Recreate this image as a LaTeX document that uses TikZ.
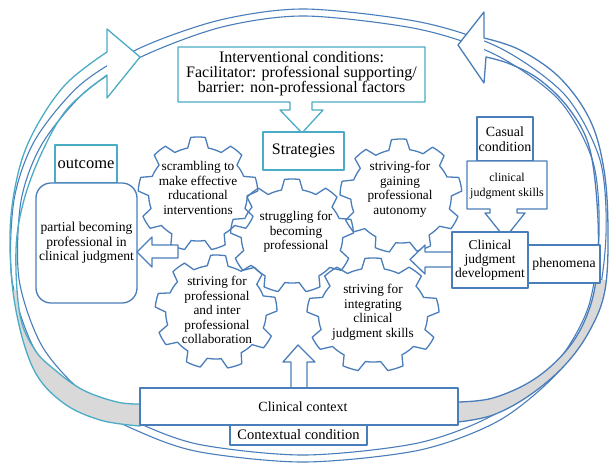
\documentclass[tikz,border=0pt]{standalone}
\usepackage{fontspec}
\setmainfont{Liberation Serif}
\definecolor{bl}{HTML}{4A7EBB}
\definecolor{tl}{HTML}{4BACC6}
\definecolor{gr}{HTML}{D9D9D9}
\newcommand{\gearshape}[4]{%
  \begin{scope}[shift={(#1,#2)}, xscale=#3]
    \draw[gearline] ({#4-12}:47)
      \foreach \k in {0,...,8}{
        -- ({#4+\k*40-7}:57) arc[start angle={#4+\k*40-7}, delta angle=14, radius=57]
        -- ({#4+\k*40+12}:47) arc[start angle={#4+\k*40+12}, delta angle=16, radius=47]
      } -- cycle;
  \end{scope}}
\begin{document}
\begin{tikzpicture}[x=1pt,y=-1pt, line join=round,
  ln/.style={line width=1.3pt},
  bbox/.style={draw=bl, ln, fill=white, inner sep=0pt, align=center},
  tbox/.style={draw=tl, ln, fill=white, inner sep=0pt, align=center},
  gearline/.style={draw=bl, ln},
  gtext/.style={align=center, font=\fontsize{13.3}{14.5}\selectfont, inner sep=0pt},
  blk/.style={draw=bl, ln, fill=white},
  ringline/.style={draw=bl, line width=1.1pt},
]
\fill[white] (0,0) rectangle (610,464);
\useasboundingbox (0,0) rectangle (610,464);

% ring
\draw[ringline] plot[smooth cycle] coordinates {(305,9) (420,22) (500,48) (565,95) (600,160) (606,235) (595,310) (560,370) (500,420) (420,450) (305,462) (200,452) (140,432) (80,400) (35,350) (12,280) (14,200) (35,140) (80,85) (140,48) (220,20)};
\draw[ringline] plot[smooth cycle] coordinates {(305,16) (418,29) (496,55) (559,100) (593,162) (599,235) (588,308) (554,366) (495,414) (418,443) (305,455) (202,445) (143,425) (85,394) (42,346) (19,279) (21,201) (42,144) (86,91) (143,56) (222,27)};

% left curved arrow (teal)
\path[save path=\leftarr] plot[smooth,tension=0.6] coordinates {(140,426) (100,420) (62,402) (33,368) (15,305) (10,235) (17,178) (33,133) (65,85) (107,52)}
  -- (107,29) -- (140,57) -- (107,98) -- (107,75)
  -- plot[smooth,tension=0.6] coordinates {(107,75) (68,108) (43,150) (24,200) (16,250) (20,315) (35,350) (55,370) (83,390) (117,402) (140,404)} -- cycle;
% right curved arrow (blue)
\path[save path=\rightarr] plot[smooth,tension=0.6] coordinates {(458,422) (493,415) (530,395) (565,365) (590,330) (605,290) (608,230) (604,170) (590,120) (560,78) (520,50) (484,38)}
  -- (484,12) -- (458,45) -- (484,83) -- (486,57)
  -- plot[smooth,tension=0.6] coordinates {(486,57) (510,64) (540,80) (570,110) (590,150) (598,220) (596,280) (585,320) (565,352) (533,380) (493,398) (458,402)} -- cycle;

\fill[white] (107,29) -- (140,57) -- (107,98) -- cycle;
\fill[white] (484,12) -- (458,45) -- (484,83) -- cycle;
\begin{scope}
  \clip (0,290) rectangle (150,464);
  \fill[gr, use path=\leftarr];
\end{scope}
\begin{scope}
  \clip (440,280) rectangle (610,464);
  \fill[gr, use path=\rightarr];
\end{scope}
\draw[tl, ln, use path=\leftarr];
\draw[bl, ln, use path=\rightarr];

% gears
\gearshape{198}{194}{1.05}{30}
\gearshape{401}{196}{1.07}{28}
\gearshape{216}{312}{1.07}{32}
\gearshape{373}{315}{1.16}{30}
\gearshape{292}{236}{1.08}{30}

% interventional callout
\draw[tl, ln, fill=white] (178,47) -- (425,47) -- (425,102) -- (312,102) -- (312,110) -- (323,110) -- (302,133) -- (280,110) -- (290,110) -- (290,102) -- (178,102) -- cycle;
\node[align=center, inner sep=0pt, font=\fontsize{16}{14.5}\selectfont] (intv) at (301.5,74) {Interventional conditions:\\Facilitator: professional supporting/\\barrier: non-professional factors};

\node[tbox, minimum width=81pt, minimum height=38pt, font=\fontsize{16}{17}\selectfont] (strat) at (303.5,151) {Strategies};
\node[tbox, minimum width=62pt, minimum height=38pt, font=\fontsize{16.5}{17}\selectfont] (outl) at (86,164) {outcome};
\node[bbox, rounded corners=15pt, minimum width=101pt, minimum height=120pt, font=\fontsize{13.6}{14.5}\selectfont] (outc) at (86.5,243) {partial becoming\\professional in\\clinical judgment};

% block arrows
\draw[blk] (178,245) -- (152,245) -- (152,237) -- (137,252) -- (152,267) -- (152,258) -- (178,258) -- cycle;
\draw[blk] (291,388) -- (291,362) -- (283,362) -- (298,345) -- (315,362) -- (307,362) -- (307,388);
\draw[blk] (452,252) -- (425,252) -- (425,245) -- (410,259.5) -- (425,274) -- (425,267) -- (452,267);

% causal side
\node[bbox, minimum width=56pt, minimum height=44pt, font=\fontsize{14}{15}\selectfont] (caus) at (505,139) {Casual\\condition};
\draw[blk] (467,161) -- (547,161) -- (547,209) -- (517,209) -- (517,213) -- (525,213) -- (505,238) -- (485,213) -- (490,213) -- (490,209) -- (467,209) -- cycle;
\node[align=center, inner sep=0pt, font=\fontsize{12}{14.5}\selectfont] (cjs) at (507,186) {clinical\\judgment skills};
\node[bbox, minimum width=76pt, minimum height=56pt, font=\fontsize{13.5}{14}\selectfont] (cjd) at (490,260) {Clinical\\judgment\\development};
\node[bbox, minimum width=72pt, minimum height=38pt, font=\fontsize{13.7}{15}\selectfont] (phen) at (564,264) {phenomena};

% context
\node[bbox, minimum width=137pt, minimum height=20pt, font=\fontsize{14.5}{15}\selectfont] (cond) at (298.5,435) {Contextual condition};
\node[bbox, minimum width=318pt, minimum height=37pt, font=\fontsize{14}{15}\selectfont] (ctx) at (299,406.5) {\hspace*{8pt}Clinical context};

% gear texts
\node[gtext] (g1) at (198,188) {scrambling to\\make effective\\rducational\\interventions};
\node[gtext] (g2) at (296,232) {struggling for\\becoming\\professional};
\node[gtext] (g3) at (400,189) {striving-for\\gaining\\professional\\autonomy};
\node[gtext] (g4) at (217,310) {striving for\\professional\\and inter\\professional\\collaboration};
\node[gtext] (g5) at (373,312) {striving for\\integrating\\clinical\\judgment skills};
\end{tikzpicture}
\end{document}
